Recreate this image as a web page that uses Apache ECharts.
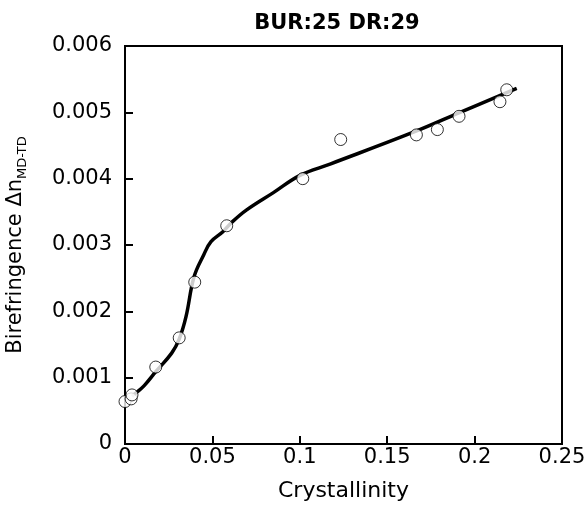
<!DOCTYPE html>
<html>
<head>
<meta charset="utf-8">
<script src="https://cdn.jsdelivr.net/npm/echarts@6/dist/echarts.min.js"></script>
<style>html,body{margin:0;padding:0;background:#fff}#c{width:588px;height:515px}</style>
</head>
<body>
<div id="c"></div>
<script>
// Measured points (crystallinity, birefringence)
const pointX = [0.0, 0.0035, 0.0040, 0.0176, 0.0310, 0.0399, 0.0582, 0.1017, 0.1234, 0.1667, 0.1787, 0.1911, 0.2145, 0.2184];
const pointY = [0.00064, 0.00068, 0.00074, 0.00116, 0.00160, 0.00244, 0.00329, 0.00400, 0.00459, 0.00466, 0.00474, 0.00494, 0.00516, 0.00534];
// Fitted curve
const curveX = [0.0040, 0.0067, 0.0110, 0.0176, 0.0267, 0.0310, 0.0349, 0.0395, 0.0450, 0.0492, 0.0560, 0.0610, 0.0696, 0.0849, 0.1001, 0.1173, 0.1650, 0.1917, 0.2241];
const curveY = [0.00072, 0.00078, 0.00088, 0.00109, 0.00137, 0.00158, 0.00192, 0.00252, 0.00285, 0.00305, 0.00320, 0.00334, 0.00353, 0.00379, 0.00405, 0.00422, 0.00470, 0.00500, 0.00536];
const xTicks = ['0', '0.05', '0.1', '0.15', '0.2', '0.25'];
const yTicks = ['0', '0.001', '0.002', '0.003', '0.004', '0.005', '0.006'];

const FONT = "'DejaVu Sans', 'Liberation Sans', Arial, sans-serif";
const chart = echarts.init(document.getElementById('c'), null, {renderer: 'canvas'});
chart.setOption({
  animation: false,
  backgroundColor: '#fff',
  title: {
    text: 'BUR:25 DR:29',
    left: 332, top: 8, textAlign: 'center',
    textStyle: {fontFamily: FONT, fontWeight: 'bold', fontSize: 21, color: '#000'}
  },
  grid: {left: 125, right: 26, top: 46, bottom: 71, show: true, borderColor: '#000', borderWidth: 2,
    backgroundColor: 'transparent', containLabel: false, outerBoundsMode: 'none'},
  xAxis: {
    type: 'value', min: 0, max: 0.25, interval: 0.05,
    name: 'Crystallinity', nameLocation: 'middle', nameGap: 36,
    nameTextStyle: {fontFamily: FONT, fontSize: 22, color: '#000'},
    axisLine: {show: true, lineStyle: {color: '#000', width: 2}},
    axisTick: {show: true, inside: true, length: 8, lineStyle: {color: '#000', width: 2}},
    axisLabel: {fontFamily: FONT, fontSize: 21, color: '#000', margin: 3,
      formatter: (v) => xTicks[Math.round(v / 0.05)]},
    splitLine: {show: false}
  },
  yAxis: {
    type: 'value', min: 0, max: 0.006, interval: 0.001,
    name: 'Birefringence Δn{sub|MD-TD}', nameLocation: 'middle', nameGap: 96, nameRotate: 90,
    nameTextStyle: {fontFamily: FONT, fontSize: 21, color: '#000',
      rich: {sub: {fontFamily: FONT, fontSize: 13, color: '#000', padding: [13, 0, 0, 0]}}},
    axisLine: {show: true, lineStyle: {color: '#000', width: 2}},
    axisTick: {show: true, inside: true, length: 8, lineStyle: {color: '#000', width: 2}},
    axisLabel: {fontFamily: FONT, fontSize: 21, color: '#000', margin: 13,
      formatter: (v) => yTicks[Math.round(v / 0.001)]},
    splitLine: {show: false}
  },
  series: [
    {
      type: 'line', data: curveX.map((x, i) => [x, curveY[i]]),
      smooth: 0.4, showSymbol: false, symbol: 'none',
      lineStyle: {color: '#000', width: 3.5}, z: 2
    },
    {
      type: 'scatter', data: pointX.map((x, i) => [x, pointY[i]]),
      symbol: 'circle', symbolSize: 12,
      itemStyle: {color: '#fff', borderColor: '#000', borderWidth: 1}, z: 3
    }
  ]
});
</script>
</body>
</html>
